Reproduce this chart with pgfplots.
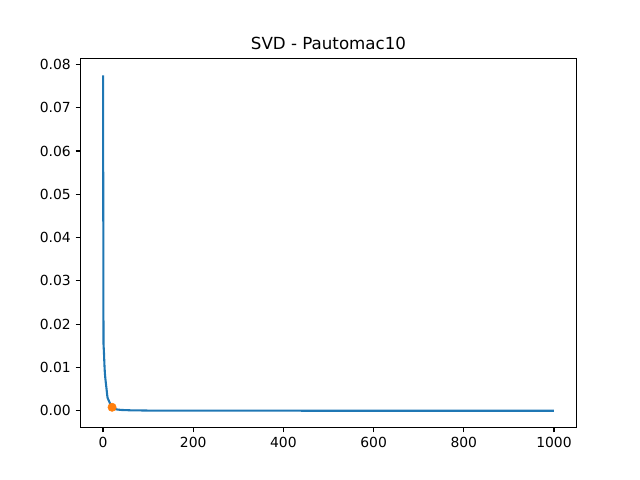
\documentclass[border=0pt]{standalone}
\usepackage{fontspec}
\setmainfont{DejaVu Sans}
\usepackage{pgfplots}
\pgfplotsset{compat=1.18}
\definecolor{mplblue}{HTML}{1F77B4}
\definecolor{mplorange}{HTML}{FF7F0E}
\begin{document}
\begin{tikzpicture}
\useasboundingbox (-57.96pt,-37.8pt) rectangle (402.84pt,307.8pt);
\begin{axis}[
  at={(0,0)}, anchor=south west,
  scale only axis,
  width=357.12pt, height=265.68pt,
  xmin=-50, xmax=1050,
  ymin=-0.003875, ymax=0.081375,
  xtick={0,200,400,600,800,1000},
  ytick={0,0.01,0.02,0.03,0.04,0.05,0.06,0.07,0.08},
  scaled y ticks=false,
  xticklabel style={/pgf/number format/.cd, set thousands separator={}},
  yticklabel style={/pgf/number format/.cd, fixed, fixed zerofill, precision=2},
  /pgf/number format/assume math mode=true,
  tick label style={font=\fontsize{10}{12}\selectfont},
  xtick pos=bottom, ytick pos=left,
  tick align=outside,
  major tick length=3.5pt,
  every tick/.style={black, line width=0.8pt},
  axis line style={line width=0.8pt},
  title={SVD - Pautomac10},
  title style={font=\fontsize{12}{14}\selectfont, yshift=-3pt},
]
\addplot[mplblue, line width=1.5pt, line join=round, mark=none] coordinates {
(0,0.0775) (1,0.0155) (2,0.0135) (3,0.0108) (4,0.0088) (5,0.0076)
(6,0.0066) (7,0.0057) (8,0.0048) (9,0.0038) (10,0.0030) (12,0.0025)
(15,0.0018) (18,0.0011) (20,0.0008) (25,0.0005) (30,0.0003) (40,0.00018)
(60,0.0001) (100,0.00004) (200,0.00001) (400,0.000005) (1000,0.0)
};
\addplot[only marks, mark=*, mark size=3pt, mplorange, mark options={draw=mplorange, fill=mplorange}] coordinates {(20,0.0008)};
\end{axis}
\end{tikzpicture}
\end{document}
